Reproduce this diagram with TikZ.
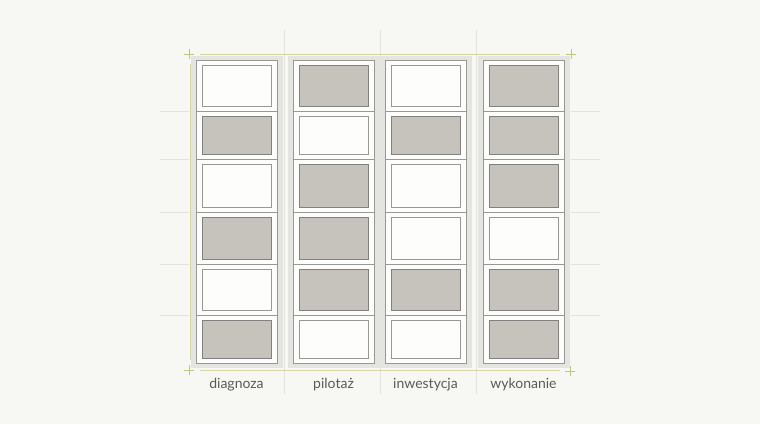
\documentclass[tikz,border=0pt]{standalone}
\usepackage{fontspec}
\setmainfont{Lato}
\definecolor{bg}{HTML}{F7F7F3}
\definecolor{gridline}{HTML}{E3E3DE}
\definecolor{guide}{HTML}{D6D6A4}
\definecolor{crossmark}{HTML}{C4C47A}
\definecolor{frameband}{HTML}{E4E4E0}
\definecolor{edge}{HTML}{989895}
\definecolor{shade}{HTML}{C6C3BC}
\definecolor{paper}{HTML}{FDFDFB}
\definecolor{labeltext}{HTML}{5A5A5A}
\begin{document}
\begin{tikzpicture}[x=1pt,y=-1pt,
  cell0/.style={draw=edge,fill=paper,line width=1pt},
  cell1/.style={draw=edge!85!black,fill=shade,line width=1pt},
  phase/.style={font=\fontsize{14}{16}\selectfont,text=labeltext,anchor=base}]
\fill[bg] (0,0) rectangle (760,424);
\useasboundingbox (0,0) rectangle (760,424);

% Faint grid behind the board
\foreach \y in {111,159,212,264,315} {
  \draw[gridline,line width=0.8pt] (160,\y) -- (189,\y);
  \draw[gridline,line width=0.8pt] (571,\y) -- (600,\y);
}
\foreach \x in {284,380,476}
  \draw[gridline,line width=0.9pt] (\x,30) -- (\x,394);

% Guide frame with corner marks
\draw[guide,line width=1pt] (200,54) -- (560,54);
\draw[guide,line width=1pt] (200,370) -- (560,370);
\draw[guide,line width=1pt] (190,64) -- (190,360);
\draw[guide,line width=1pt] (569,64) -- (569,360);
\foreach \cx/\cy in {189/54,571/54,189/370,570/371}
  \draw[crossmark,line width=0.8pt] (\cx-5,\cy) -- (\cx+5,\cy) (\cx,\cy-5) -- (\cx,\cy+5);

% Columns: one per phase, 6 cells each
\foreach \cx/\lab/\fills [count=\i] in {196/diagnoza/{0,1,0,1,0,1},
    293/pilotaż/{1,0,1,1,1,0},
    385/inwestycja/{0,1,0,0,1,0},
    483/wykonanie/{1,1,1,0,1,1}} {
  \fill[frameband] (\cx-5,56) rectangle (\cx+87,368);
  \draw[edge,fill=paper,line width=1pt] (\cx,60) rectangle (\cx+81,363);
  \foreach \top/\bot [count=\j] in {60/111,111/159,159/212,212/264,264/315,315/363} {
    \pgfmathtruncatemacro\f{{\fills}[\j-1]}
    \ifnum\j<6 \draw[edge,line width=1pt] (\cx,\bot) -- (\cx+81,\bot); \fi
    \draw[cell\f] (\cx+6,\top+5) rectangle (\cx+75,\bot-5);
  }
  \node[phase] (phase-\i) at (\cx+40.5,388) {\lab};
}
\end{tikzpicture}
\end{document}
